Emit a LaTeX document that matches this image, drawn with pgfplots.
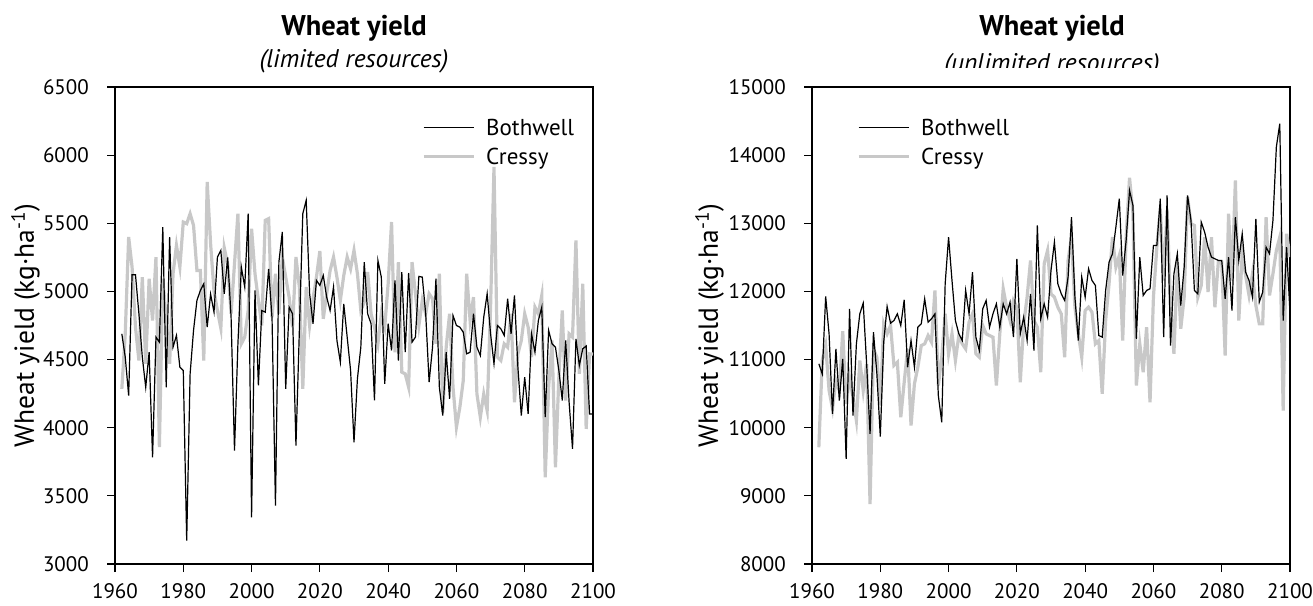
\documentclass[border=0pt]{standalone}
\usepackage{pgfplots}
\pgfplotsset{compat=1.18}
\usepackage{pgfplotstable}
\usepackage{fontspec}
\setmainfont{PT Sans}
\definecolor{cressy}{RGB}{200,200,200}

\pgfplotstableread{
year b c
1962 4689 4285
1963 4518 4689
1964 4236 5399
1965 5122 5179
1966 5122 4738
1967 4836 4493
1968 4518 5105
1969 4297 4469
1970 4554 5093
1971 3783 4787
1972 4665 5252
1973 4628 3857
1974 5472 5093
1975 4297 4787
1976 5399 4469
1977 4591 5130
1978 4677 5338
1979 4444 5179
1980 4420 5509
1981 3171 5497
1982 4395 5570
1983 4714 5485
1984 4934 5154
1985 5007 5154
1986 5056 4493
1987 4738 5803
1988 4980 5350
1989 4848 5000
1990 5252 4860
1991 5301 4730
1992 4983 5320
1993 5250 5200
1994 4811 4836
1995 3832 5203
1996 4616 5570
1997 5179 4616
1998 5032 4665
1999 5570 4860
2000 3343 5460
2001 5007 5130
2002 4310 4934
2003 4860 4750
2004 4848 5521
2005 5166 5534
2006 4799 4811
2007 3428 5130
2008 5215 4836
2009 5436 5252
2010 4285 5105
2011 4885 4958
2012 4836 4738
2013 3869 5252
2014 4714 5032
2015 5570 4285
2016 5668 5032
2017 4983 4750
2018 4763 4946
2019 5081 5105
2020 5044 5296
2021 5117 4799
2022 4958 4983
2023 4860 5154
2024 5032 5252
2025 4640 5105
2026 4481 4934
2027 4909 5117
2028 4665 5252
2029 4420 5166
2030 3893 5301
2031 4359 5130
2032 4591 4860
2033 5215 4922
2034 4836 5142
2035 4763 4836
2036 4200 4738
2037 5228 4616
2038 5105 4836
2039 4322 4738
2040 4763 5056
2041 4567 5509
2042 5081 4554
2043 4493 5215
2044 5142 4408
2045 4554 4395
2046 5135 4297
2047 4628 5215
2048 4665 4983
2049 5110 4750
2050 5105 4934
2051 4836 4836
2052 4334 4983
2053 4591 4946
2054 5093 4616
2055 4297 5130
2056 4089 4114
2057 4554 4591
2058 4212 4836
2059 4823 4297
2060 4750 4004
2061 4738 4150
2062 4701 4346
2063 4542 5130
2064 4554 4787
2065 4836 4958
2066 4591 4248
2067 4530 4077
2068 4811 4248
2069 4983 4126
2070 4689 4885
2071 4469 5913
2072 4750 4518
2073 4726 4493
2074 4677 4616
2075 4946 4591
2076 4689 4836
2077 4971 4187
2078 4444 4542
2079 4089 4640
2080 4371 4836
2081 4101 4738
2082 4689 4518
2083 4554 4885
2084 4787 4836
2085 4885 4971
2086 4077 3636
2087 4714 4297
2088 4616 4640
2089 4591 3710
2090 4420 4371
2091 4200 4860
2092 4640 4200
2093 4187 4689
2094 3845 4665
2095 4652 5375
2096 4457 4395
2097 4579 5056
2098 4600 3991
2099 4100 4542
2100 4100 4540
}\limited

\pgfplotstableread{
year b c
1962 10937 9713
1963 10790 10986
1964 11926 11206
1965 11378 10546
1966 10203 10277
1967 11157 10692
1968 10399 10546
1969 11010 11417
1970 9542 10350
1971 11745 10741
1972 10178 10448
1973 11231 10105
1974 11671 10986
1975 11828 10546
1976 10937 10937
1977 9909 8881
1978 11402 11157
1979 10790 11035
1980 9870 10325
1981 11255 11524
1982 11779 11378
1983 11534 11500
1984 11573 10913
1985 11671 10962
1986 11500 10154
1987 11877 10668
1988 10888 11157
1989 11280 10031
1990 10888 10644
1991 11476 10888
1992 11524 11206
1993 11892 11231
1994 11549 11353
1995 11598 11255
1996 11671 12014
1997 10472 10619
1998 10080 11035
1999 12112 11671
2000 12797 11084
2001 12161 11378
2002 11573 10986
2003 11378 11353
2004 11280 11231
2005 12015 11157
2006 11671 11549
2007 12283 11671
2008 11329 11084
2009 11133 11035
2010 11745 11500
2011 11867 11378
2012 11476 11353
2013 11671 11329
2014 11818 10619
2015 11476 11378
2016 11818 12039
2017 11671 11769
2018 11843 11573
2019 11329 11867
2020 12479 11769
2021 11378 10668
2022 11622 11524
2023 11280 11916
2024 11965 12455
2025 11133 11573
2026 12969 11476
2027 11598 10815
2028 11818 12406
2029 11622 12602
2030 12308 11965
2031 12724 11916
2032 12112 11769
2033 11965 11671
2034 11867 11035
2035 12210 12455
2036 13091 12797
2037 11916 11769
2038 11280 11378
2039 12210 11035
2040 11916 11720
2041 12332 11769
2042 12161 11696
2043 12088 11231
2044 11353 11280
2045 11329 10497
2046 12014 11573
2047 12430 12112
2048 12553 12797
2049 12944 12357
2050 13360 12528
2051 12234 11280
2052 12748 12797
2053 13482 13668
2054 13262 13140
2055 11304 10619
2056 12504 11231
2057 11941 10815
2058 12014 11476
2059 12039 10374
2060 12675 11916
2061 12675 12650
2062 13360 13213
2063 11329 12161
2064 13409 13189
2065 11206 11843
2066 12259 11084
2067 12553 12430
2068 11794 11451
2069 12357 11916
2070 13409 13384
2071 13042 12993
2072 12014 12969
2073 11965 11916
2074 13017 12088
2075 12870 12797
2076 12650 11990
2077 12504 12797
2078 12479 11769
2079 12455 12430
2080 12455 12430
2081 11892 11059
2082 12504 13140
2083 11720 12161
2084 13091 13629
2085 12455 11573
2086 12846 12553
2087 12283 12234
2088 12161 11941
2089 11916 12259
2090 13066 11794
2091 11843 11524
2092 11990 11524
2093 12650 13091
2094 12553 11941
2095 13042 12259
2096 14119 12602
2097 14461 12797
2098 11573 10252
2099 12650 12846
2100 11671 12504
}\unlimited

\pgfplotsset{
  wheat/.style={
    scale only axis, width=478pt, height=477pt,
    xmin=1960, xmax=2100,
    xtick={1960,1980,...,2100},
    scaled x ticks=false, scaled y ticks=false,
    tick align=outside, tick pos=left,
    major tick length=8pt,
    axis line style={line width=1.2pt},
    every tick/.style={black, line width=1.2pt},
    /pgf/number format/assume math mode=true,
    /pgf/number format/1000 sep={},
    tick label style={font=\fontsize{21}{24}\selectfont, inner sep=0pt},
    xticklabel style={anchor=north, yshift=-11pt},
    yticklabel style={anchor=east, xshift=-18pt},
    ylabel={Wheat yield (kg·ha\textsuperscript{-1})},
    ylabel style={anchor=base, font=\fontsize{27.5}{30}\selectfont, inner sep=0pt},
    legend style={draw=none, fill=none, inner sep=0pt, outer sep=0pt,
      font=\fontsize{23}{26}\selectfont, row sep=11pt, column sep=11pt,
      nodes={inner sep=0pt}, cells={anchor=west}},
    legend image code/.code={\draw[#1, line cap=butt] (0pt,0pt) -- (50pt,0pt);},
  }
}

\begin{document}
\begin{tikzpicture}
\useasboundingbox (0,0) rectangle (1313pt,605pt);

\begin{axis}[wheat, at={(115pt,41pt)}, anchor=south west,
  ymin=3000, ymax=6500, ytick={3000,3500,...,6500},
  ylabel style={at={(axis description cs:-0.1695,0.5)}},
  legend style={at={(0.6423,0.9330)}, anchor=north west}]
\addlegendimage{black, line width=1.2pt}
\addlegendentry{Bothwell}
\addplot[cressy, line width=3.2pt] table[x=year, y=c] {\limited};
\addlegendentry{Cressy}
\addplot[black, line width=1.2pt, forget plot] table[x=year, y=b] {\limited};
\end{axis}

\begin{axis}[wheat, at={(812pt,41pt)}, anchor=south west,
  ymin=8000, ymax=15000, ytick={8000,9000,...,15000},
  ylabel style={at={(axis description cs:-0.1967,0.5)}},
  legend style={at={(0.0941,0.9330)}, anchor=north west}]
\addlegendimage{black, line width=1.2pt}
\addlegendentry{Bothwell}
\addplot[cressy, line width=3.2pt] table[x=year, y=c] {\unlimited};
\addlegendentry{Cressy}
\addplot[black, line width=1.2pt, forget plot] table[x=year, y=b] {\unlimited};
\end{axis}

\node[anchor=base, font=\bfseries\fontsize{28.5}{31}\selectfont, inner sep=0pt] at (354pt,569pt) {Wheat yield};
\node[anchor=base, font=\itshape\fontsize{25.5}{28}\selectfont, inner sep=0pt] at (354pt,537pt) {(limited resources)};
\node[anchor=base, font=\bfseries\fontsize{28.5}{31}\selectfont, inner sep=0pt] at (1052pt,569pt) {Wheat yield};
\begin{scope}
\clip (700pt,537pt) rectangle (1313pt,605pt);
\node[anchor=base, font=\itshape\fontsize{25.5}{28}\selectfont, inner sep=0pt] at (1052pt,533.5pt) {(unlimited resources)};
\end{scope}
\end{tikzpicture}
\end{document}
